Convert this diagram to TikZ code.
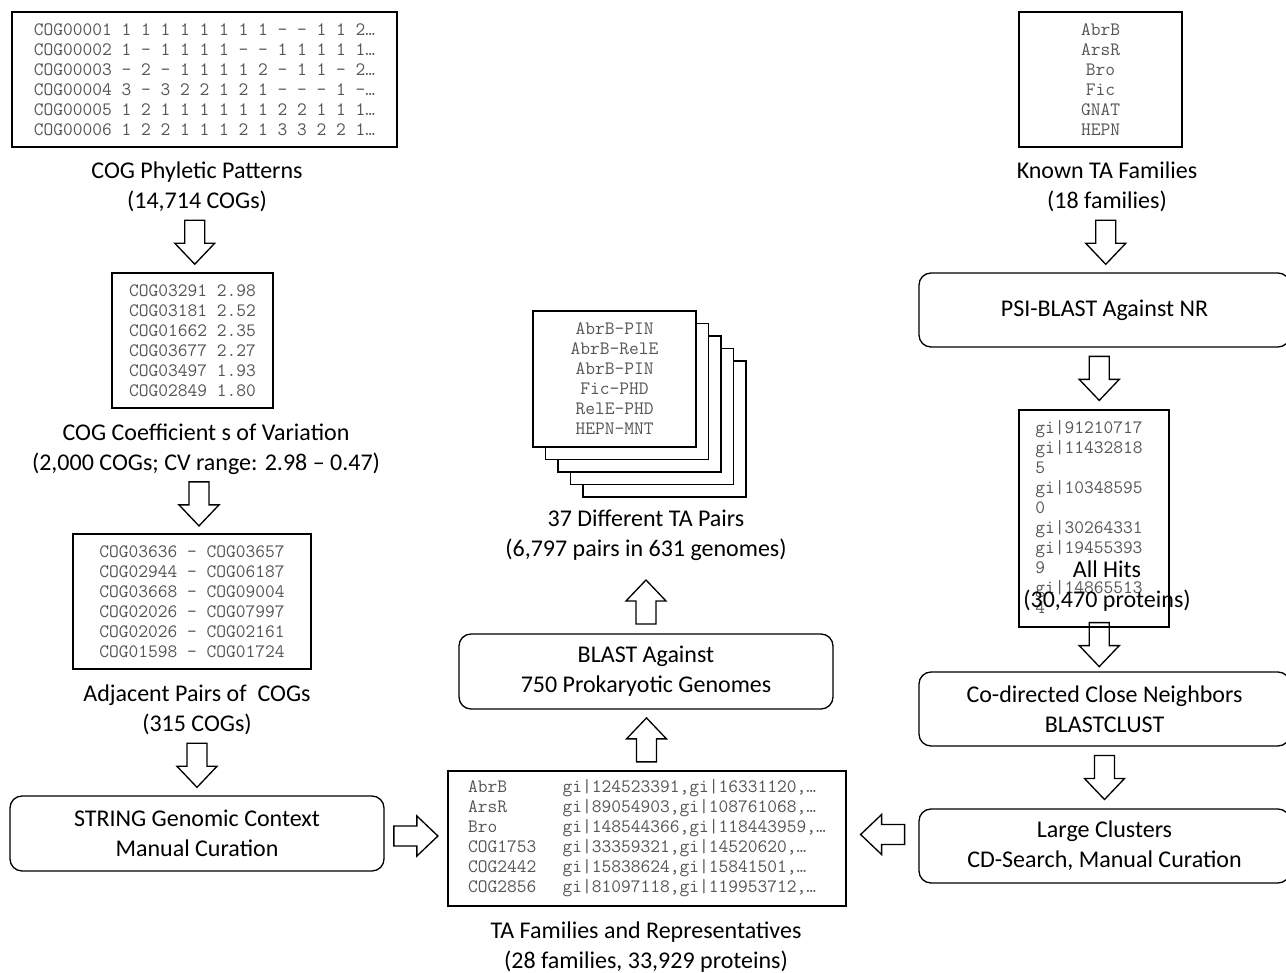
\documentclass[tikz,border=0pt]{standalone}
\usepackage{fontspec}
\setmainfont{Carlito}
\usepackage{tikz}
\usetikzlibrary{positioning, calc}

\definecolor{listgray}{RGB}{85,85,85}

\begin{document}
\begin{tikzpicture}[
    x=0.75pt, y=-0.75pt,
    listbox/.style={
        rectangle,
        draw,
        line width=1.3pt,
        fill=white,
        inner sep=0pt,
        minimum height=101.25pt,
        align=left,
        text=listgray,
        font=\ttfamily\fontsize{14.2}{15}\selectfont
    },
    stepbox/.style={
        rectangle,
        rounded corners=9pt,
        draw,
        line width=1pt,
        minimum width=280.5pt,
        minimum height=56.25pt,
        align=center,
        font=\fontsize{18}{22.5}\selectfont
    },
    caption/.style={
        align=center,
        inner sep=0pt,
        font=\fontsize{18}{22.5}\selectfont
    },
    blockdown/.pic={
        \draw[line width=1pt, fill=none]
            (-10,-22) -- (10,-22) -- (10,1) -- (20,1) -- (0,22)
            -- (-20,1) -- (-10,1) -- cycle;
    }
]
\useasboundingbox (0,0) rectangle (1286,972);

% === Left column: COG filtering ===
\node[listbox, minimum width=288.75pt] (phylo) at (204.5,79.5) {%
COG00001 1 1 1 1 1 1 1 1 – – 1 1 2…\\
COG00002 1 – 1 1 1 1 – – 1 1 1 1 1…\\
COG00003 – 2 – 1 1 1 1 2 – 1 1 – 2…\\
COG00004 3 – 3 2 2 1 2 1 – – – 1 –…\\
COG00005 1 2 1 1 1 1 1 1 2 2 1 1 1…\\
COG00006 1 2 2 1 1 1 2 1 3 3 2 2 1…};
\node[caption] (lblphylo) at (197,187) {COG Phyletic Patterns\\(14,714 COGs)};

\node[listbox, minimum width=120.75pt] (cv) at (192.5,340.5) {%
COG03291 2.98\\
COG03181 2.52\\
COG01662 2.35\\
COG03677 2.27\\
COG03497 1.93\\
COG02849 1.80};
\node[caption] (lblcv) at (206,449) {COG Coefficient s of Variation\\(2,000 COGs; CV range: 2.98 – 0.47)};

\node[listbox, minimum width=178.5pt] (adj) at (192,601.5) {%
COG03636 – COG03657\\
COG02944 – COG06187\\
COG03668 – COG09004\\
COG02026 – COG07997\\
COG02026 – COG02161\\
COG01598 – COG01724};
\node[caption] (lbladj) at (197,710) {Adjacent Pairs of~ COGs\\(315 COGs)};

\node[stepbox] (string) at (197,833.5) {STRING Genomic Context\\Manual Curation};

% === Middle column: TA pairs ===
\node[listbox, minimum width=298.5pt] (tafam) at (647,838.5) {%
\makebox[5em][l]{AbrB}gi|124523391,gi|16331120,…\\
\makebox[5em][l]{ArsR}gi|89054903,gi|108761068,…\\
\makebox[5em][l]{Bro}gi|148544366,gi|118443959,…\\
\makebox[5em][l]{COG1753}gi|33359321,gi|14520620,…\\
\makebox[5em][l]{COG2442}gi|15838624,gi|15841501,…\\
\makebox[5em][l]{COG2856}gi|81097118,gi|119953712,…};
\node[caption] (lbltafam) at (646,947) {TA Families and Representatives\\(28 families, 33,929 proteins)};

\node[stepbox] (blast) at (646,671.5) {BLAST Against\\750 Prokaryotic Genomes};

\coordinate (pairsc) at (614.5,379);
\foreach \k in {4,3,2,1}
    \node[listbox, minimum width=122.25pt, minimum height=102pt] at ($(pairsc)+(\k*12.5,\k*12.5)$) {};
\node[listbox, minimum width=122.25pt, minimum height=102pt, align=center] (pairs) at (pairsc) {%
AbrB-PIN\\AbrB-RelE\\AbrB-PIN\\Fic-PHD\\RelE-PHD\\HEPN-MNT};
\node[caption] (lblpairs) at (646,535) {37 Different TA Pairs\\(6,797 pairs in 631 genomes)};

% === Right column: known families ===
\node[listbox, minimum width=122.25pt, align=center] (known) at (1100.5,79.5) {%
AbrB\\ArsR\\Bro\\Fic\\GNAT\\HEPN};
\node[caption] (lblknown) at (1107,187) {Known TA Families\\(18 families)};

\node[stepbox, minimum width=278.25pt, minimum height=55.5pt] (psi) at (1104.5,310) {PSI-BLAST Against NR};

\node[listbox, minimum width=112.5pt, minimum height=162.75pt, fill=none] (hits) at (1094,518.5) {};
\node[inner sep=0pt, anchor=north west, align=left, text=listgray,
      font=\ttfamily\fontsize{14.2}{15}\selectfont] (hitlist) at (1035,420) {%
gi|91210717\\gi|11432818\\5\\gi|10348595\\0\\gi|30264331\\gi|19455393\\9\\gi|14865513\\4};
\node[caption] (lblhits) at (1107,586) {All Hits\\(30,470 proteins)};

\node[stepbox, minimum width=278.25pt, minimum height=55.5pt] (codir) at (1104.5,709) {Co-directed Close Neighbors\\BLASTCLUST};
\node[stepbox, minimum width=278.25pt, minimum height=55.5pt] (large) at (1104.5,846) {Large Clusters\\CD-Search, Manual Curation};

% === Block arrows ===
\pic (a1) at ($(lblphylo.south)!0.5!(cv.north)$) {blockdown};
\pic (a2) at ($(lblcv.south)!0.5!(adj.north)$) {blockdown};
\pic (a3) at ($(lbladj.south)!0.5!(string.north)$) {blockdown};
\pic[rotate=90] (a4) at ($(string.east)!0.5!(tafam.west)$) {blockdown};
\pic[rotate=-90] (a5) at ($(tafam.east -| large.west)!0.5!(tafam.east)+(0,-4)$) {blockdown};
\pic[rotate=180] (a6) at ($(tafam.north)!0.5!(blast.south)$) {blockdown};
\pic[rotate=180] (a7) at ($(blast.north)!0.5!(lblpairs.south)+(0,5)$) {blockdown};
\pic (a8) at ($(lblknown.south)!0.5!(psi.north)$) {blockdown};
\pic (a9) at ($(psi.south)!0.5!(hits.north)$) {blockdown};
\pic (a10) at ($(hits.south)!0.5!(codir.north)+(0,-5)$) {blockdown};
\pic (a11) at ($(codir.south)!0.5!(large.north)$) {blockdown};

\end{tikzpicture}
\end{document}
